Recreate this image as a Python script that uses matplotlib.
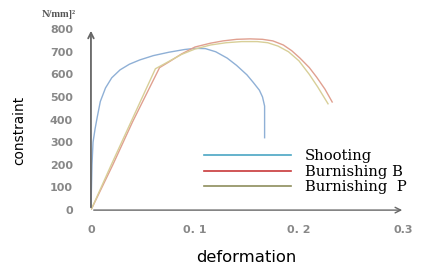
import numpy as np
import matplotlib.pyplot as plt
from matplotlib.lines import Line2D

# valeurs
shoot_x = [0, 0.001, 0.002, 0.004, 0.006, 0.009, 0.014, 0.02, 0.028, 0.037, 0.047, 0.06, 0.075,
           0.09, 0.1, 0.11, 0.12, 0.131, 0.14, 0.15, 0.156, 0.162, 0.165, 0.167, 0.167]
shoot_y = [0, 200, 300, 360, 410, 480, 540, 585, 620, 645, 664, 683, 698,
           710, 715, 714, 700, 672, 640, 598, 565, 530, 500, 460, 320]

burn_b_x = [0, 0.021, 0.04, 0.066, 0.075, 0.087, 0.1, 0.115, 0.127, 0.14, 0.153, 0.165,
            0.175, 0.185, 0.193, 0.201, 0.21, 0.217, 0.225, 0.232]
burn_b_y = [0, 200, 390, 630, 655, 690, 721, 738, 748, 755, 757, 755,
            748, 730, 705, 672, 630, 588, 535, 478]

burn_p_x = [0, 0.02, 0.04, 0.062, 0.072, 0.087, 0.1, 0.115, 0.13, 0.145, 0.16, 0.17,
            0.18, 0.19, 0.2, 0.21, 0.218, 0.228]
burn_p_y = [0, 205, 405, 625, 650, 688, 712, 730, 740, 745, 745, 740,
            725, 700, 660, 600, 545, 470]

labels = ["Shooting", "Burnishing B", "Burnishing  P"]
x_ticks = [0, 0.1, 0.2, 0.3]
x_ticklabels = ["0", "0. 1", "0. 2", "0.3"]
y_ticks = [0, 100, 200, 300, 400, 500, 600, 700, 800]

fig = plt.figure(figsize=(4.25, 2.75), dpi=100)
ax = fig.add_axes([0.214, 0.236, 0.734, 0.658])

ax.plot(shoot_x, shoot_y, color="#8fb0d6", lw=1.0)
ax.plot(burn_b_x, burn_b_y, color="#e0a090", lw=1.0)
ax.plot(burn_p_x, burn_p_y, color="#d8cf98", lw=1.0)

ax.set_xlim(0, 0.3)
ax.set_ylim(0, 800)
for s in ax.spines.values():
    s.set_visible(False)
ax.tick_params(length=0, colors="#888888", labelsize=8)
ax.tick_params(axis="y", pad=13)
ax.tick_params(axis="x", pad=11)
ax.set_xticks(x_ticks)
ax.set_xticklabels(x_ticklabels, fontweight="bold")
ax.set_yticks(y_ticks)
ax.set_yticklabels([str(v) for v in y_ticks], fontweight="bold")

# axes avec fleches
ax.annotate("", xy=(0, 805), xytext=(0, 0), annotation_clip=False,
            arrowprops=dict(arrowstyle="->", color="#666666", lw=1.3))
ax.annotate("", xy=(0.302, 0), xytext=(0, 0), annotation_clip=False,
            arrowprops=dict(arrowstyle="->", color="#666666", lw=1.0))

fig.text(0.045, 0.527, "constraint", fontsize=9.8, rotation=90, ha="center", va="center")
fig.text(0.58, 0.063, "deformation", fontsize=11.8, ha="center", va="center")
fig.text(0.098, 0.948, "N/mm]²", fontsize=7.5, family="Liberation Serif",
         fontweight="bold", color="#555555", va="center")

# legende
handles = [Line2D([], [], color="#4aa6c4", lw=1.2),
           Line2D([], [], color="#c8383a", lw=1.2),
           Line2D([], [], color="#8e8e5c", lw=1.2)]
fig.legend(handles, labels, loc="upper left", bbox_to_anchor=(0.466, 0.48),
           frameon=False, prop={"family": "DejaVu Serif", "size": 10.6},
           handlelength=5.9, labelspacing=0.12, handletextpad=0.95,
           borderaxespad=0)

plt.savefig("out.png", dpi=100)
